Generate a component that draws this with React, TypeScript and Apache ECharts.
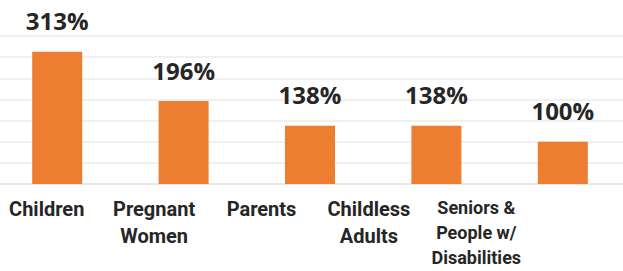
import React, { useEffect, useRef } from "react";
import * as echarts from "echarts";

const categories = ["Children", "Pregnant\nWomen", "Parents", "Childless\nAdults", "Seniors &\nPeople w/\nDisabilities"];
const values = [313, 196, 138, 138, 100];
const valueLabels = ["313%", "196%", "138%", "138%", "100%"];

export default function App() {
  const ref = useRef<HTMLDivElement>(null);
  useEffect(() => {
    document.body.style.margin = "0";
    document.body.style.overflow = "hidden";
    const chart = echarts.init(ref.current!, null, { renderer: "svg" });
    chart.setOption({
      animation: false,
      grid: [
        { left: 2, right: 0, top: 36, bottom: 87 },
        { left: 1, width: 537, top: 36, bottom: 87 },
      ],
      xAxis: [
        {
          type: "category",
          gridIndex: 0,
          data: categories,
          axisLine: { show: true, lineStyle: { color: "#e6e6e6", width: 1.5 } },
          axisTick: { show: false },
          axisLabel: { show: false },
        },
        {
          type: "category",
          gridIndex: 1,
          data: categories,
          axisLine: { show: false },
          axisTick: { show: false },
          axisLabel: {
            margin: 11,
            fontFamily: "Roboto",
            fontWeight: "bold",
            fontSize: 20,
            lineHeight: 27,
            color: "#262626",
            interval: 0,
            formatter: (v: string, i: number) => (i === categories.length - 1 ? `{s|${v}}` : v),
            rich: {
              s: { fontFamily: "Roboto", fontWeight: "bold", fontSize: 18, lineHeight: 25, color: "#262626" },
            },
          },
        },
      ],
      yAxis: [
        {
          type: "value",
          gridIndex: 0,
          min: 0,
          max: 350,
          interval: 50,
          axisLabel: { show: false },
          axisLine: { show: false },
          axisTick: { show: false },
          splitLine: { lineStyle: { color: "#ebebeb", width: 1.5 } },
        },
        {
          type: "value",
          gridIndex: 1,
          show: false,
          splitLine: { show: false },
        },
      ],
      series: [
        {
          type: "bar",
          xAxisIndex: 0,
          yAxisIndex: 0,
          data: values,
          barWidth: 50,
          itemStyle: { color: "#ED7D31" },
          label: {
            show: true,
            position: "top",
            distance: 19,
            formatter: (p: any) => valueLabels[p.dataIndex],
            fontFamily: "Open Sans",
            fontWeight: "bold",
            fontSize: 24,
            lineHeight: 24,
            color: "#262626",
          },
        },
      ],
    });
    return () => chart.dispose();
  }, []);
  return <div ref={ref} style={{ position: "absolute", left: -8, top: 0, width: 634, height: 271 }} />;
}
